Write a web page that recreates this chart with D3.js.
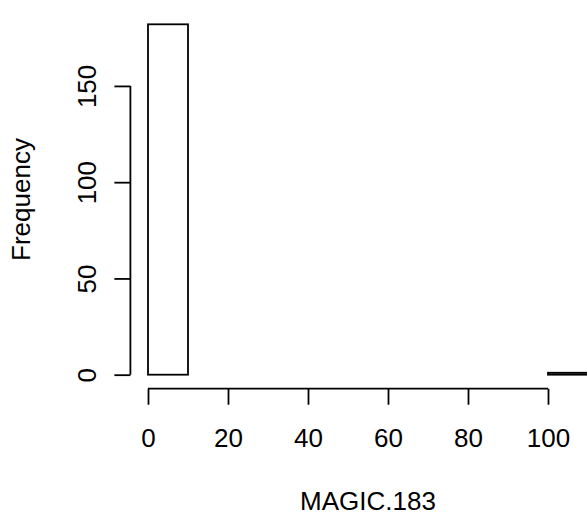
<!DOCTYPE html>
<html><head><meta charset="utf-8">
<script src="https://cdn.jsdelivr.net/npm/d3@7"></script>
<style>body{margin:0;background:#fff}svg{display:block}text{font-family:"Liberation Sans",Arial,sans-serif;fill:#000}</style>
</head><body>
<script>
const binEdges = [0,10,20,30,40,50,60,70,80,90,100,110];
const counts = [182,0,0,0,0,0,0,0,0,0,1];
const xTicks = [0,20,40,60,80,100];
const yTicks = [0,50,100,150];
const xLabel = "MAGIC.183";
const yLabel = "Frequency";

const W = 587, H = 515;
const svg = d3.select("body").append("svg").attr("width", W).attr("height", H);
const x = d3.scaleLinear().domain([-4.4, 114.4]).range([130.4, 605.6]);
const y = d3.scaleLinear().domain([-7.28, 189.28]).range([388.7, 10.3]);
const fs = 26;
const sw = 1.8;
const bins = counts.map((c,i)=>({x0:binEdges[i], x1:binEdges[i+1], c}));
svg.append("g").selectAll("rect").data(bins).join("rect")
  .attr("x", d=>x(d.x0)).attr("width", d=>x(d.x1)-x(d.x0))
  .attr("y", d=>y(d.c)).attr("height", d=>y(0)-y(d.c))
  .attr("fill","#fff").attr("stroke","#000").attr("stroke-width",sw);

// x axis
const xa = svg.append("g").attr("transform", `translate(0,${y(-7.28)})`)
  .call(d3.axisBottom(x).tickValues(xTicks).tickSize(16).tickFormat(d3.format("d")));
// y axis
const ya = svg.append("g").attr("transform", `translate(${x(-4.4)},0)`)
  .call(d3.axisLeft(y).tickValues(yTicks).tickSize(16).tickFormat(d3.format("d")));
[xa, ya].forEach(a=>{
  a.attr("font-size", fs).attr("font-family","Liberation Sans, Arial, sans-serif");
  a.select(".domain").remove();
  a.selectAll("line").attr("stroke","#000").attr("stroke-width",sw);
  a.selectAll("text").style("font-size", fs+"px");
});
xa.selectAll(".tick text").attr("y", 58).attr("dy", "0");
xa.append("line").attr("x1", x(0)).attr("x2", x(100)).attr("y1",0).attr("y2",0).attr("stroke","#000").attr("stroke-width",sw);
ya.append("line").attr("y1", y(0)).attr("y2", y(150)).attr("x1",0).attr("x2",0).attr("stroke","#000").attr("stroke-width",sw);
ya.selectAll(".tick text").attr("transform","rotate(-90)").attr("x",0).attr("y",-34.5).attr("dy","0").attr("text-anchor","middle");

svg.append("text").attr("x", (130.4+605.6)/2).attr("y", 510).attr("text-anchor","middle").style("font-size", fs+"px").text(xLabel);
svg.append("text").attr("transform", `translate(30,${(10.3+388.7)/2}) rotate(-90)`).attr("text-anchor","middle").style("font-size", fs+"px").text(yLabel);
</script>
</body></html>
